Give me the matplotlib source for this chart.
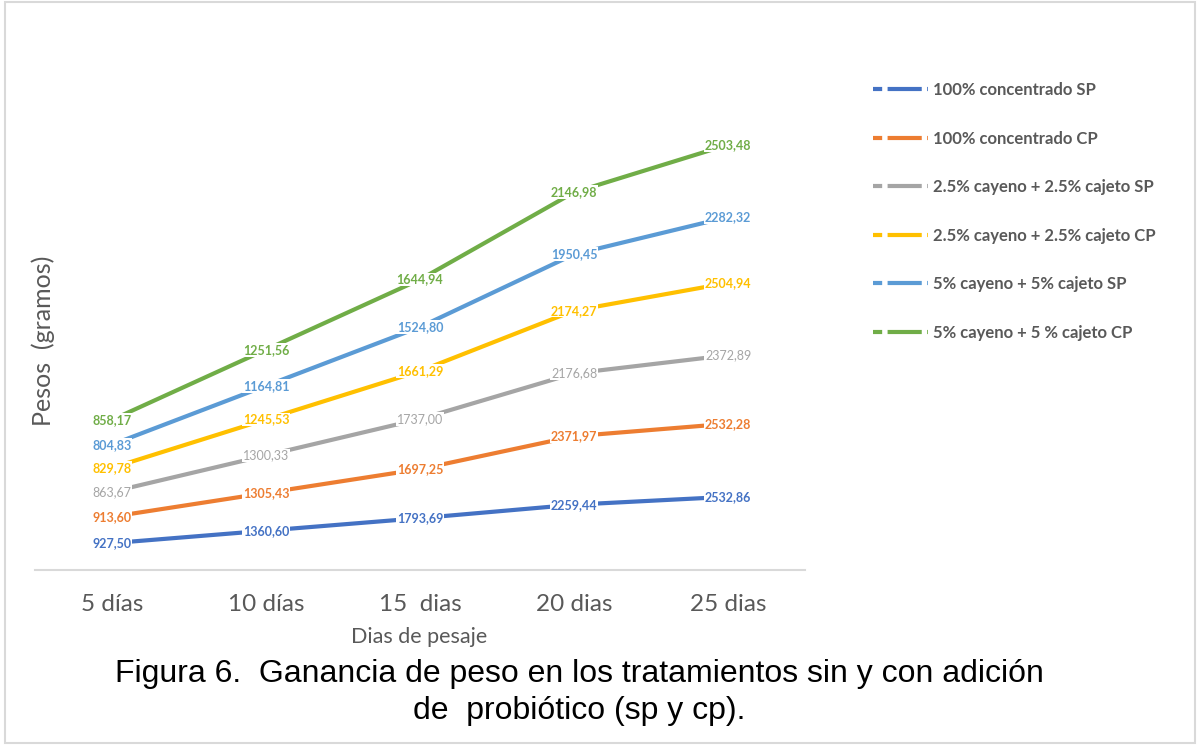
## stacked line chart, weight gain per treatment

import matplotlib.pyplot as plt
import numpy as np
from matplotlib.lines import Line2D
from matplotlib.patches import Rectangle

dias = ['5 días', '10 días', '15  dias', '20 dias', '25 dias']

series_names = ['100% concentrado SP', '100% concentrado CP',
                '2.5% cayeno + 2.5% cajeto SP', '2.5% cayeno + 2.5% cajeto CP',
                '5% cayeno + 5% cajeto SP', '5% cayeno + 5 % cajeto CP']

conc_sp = [927.50, 1360.60, 1793.69, 2259.44, 2532.86]
conc_cp = [913.60, 1305.43, 1697.25, 2371.97, 2532.28]
cay25_sp = [863.67, 1300.33, 1737.00, 2176.68, 2372.89]
cay25_cp = [829.78, 1245.53, 1661.29, 2174.27, 2504.94]
cay5_sp = [804.83, 1164.81, 1524.80, 1950.45, 2282.32]
cay5_cp = [858.17, 1251.56, 1644.94, 2146.98, 2503.48]

colors = ['#4472C4', '#ED7D31', '#A5A5A5', '#FFC000', '#5B9BD5', '#70AD47']

all_series = [conc_sp, conc_cp, cay25_sp, cay25_cp, cay5_sp, cay5_cp]

plt.rcParams['font.family'] = ['Lato', 'DejaVu Sans']

fig = plt.figure(figsize=(12, 7.45), dpi=100)
ax = fig.add_axes([0.029, 0.235, 0.642, 0.620])

x = np.arange(len(dias))
base = np.zeros(len(dias))
for vals, col, name in zip(all_series, colors, series_names):
    top = base + np.array(vals)
    ax.plot(x, top, color=col, lw=3, solid_capstyle='butt', zorder=2)
    weight = 'normal' if col == '#A5A5A5' else 'bold'
    for xi, yi, v in zip(x, top, vals):
        lbl = f'{v:.2f}'.replace('.', ',')
        ax.text(xi, yi, lbl, color=col, fontsize=9, fontweight=weight,
                ha='center', va='center', zorder=3,
                bbox=dict(facecolor='white', edgecolor='none', pad=0.6))
    base = top

ax.set_xlim(-0.5, 4.5)
ax.set_ylim(0, 16000)
ax.set_xticks(x)
ax.set_xticklabels(dias, fontsize=17.5, color='#595959')
ax.tick_params(axis='x', length=0, pad=17)
ax.set_yticks([])
for s in ['top', 'right', 'left']:
    ax.spines[s].set_visible(False)
ax.spines['bottom'].set_color('#D9D9D9')
ax.spines['bottom'].set_linewidth(1.5)

fig.text(0.036, 0.543, 'Pesos  (gramos)', rotation=90, fontsize=18,
         color='#595959', ha='center', va='center')
fig.text(0.349, 0.145, 'Dias de pesaje', fontsize=15.5, color='#595959',
         ha='center', va='center')
fig.text(0.483, 0.071, 'Figura 6.  Ganancia de peso en los tratamientos sin y con adición\nde  probiótico (sp y cp).',
         fontsize=23, family='Liberation Sans', ha='center', va='center',
         linespacing=1.3)

handles = [Line2D([], [], color=c, lw=3, linestyle=(0, (2.2, 1.3, 6, 0)))
           for c in colors]
leg = fig.legend(handles, series_names, loc='upper left',
                 bbox_to_anchor=(0.715, 0.91), frameon=False,
                 prop=dict(size=12, weight='bold'), labelspacing=1.95,
                 handlelength=3.3, handletextpad=0.3)
for t in leg.get_texts():
    t.set_color('#595959')

fig.add_artist(Rectangle((0.004, 0.003), 0.992, 0.994, transform=fig.transFigure,
                         fill=False, edgecolor='#D9D9D9', lw=1.5))

fig.savefig('out.png', dpi=100)
